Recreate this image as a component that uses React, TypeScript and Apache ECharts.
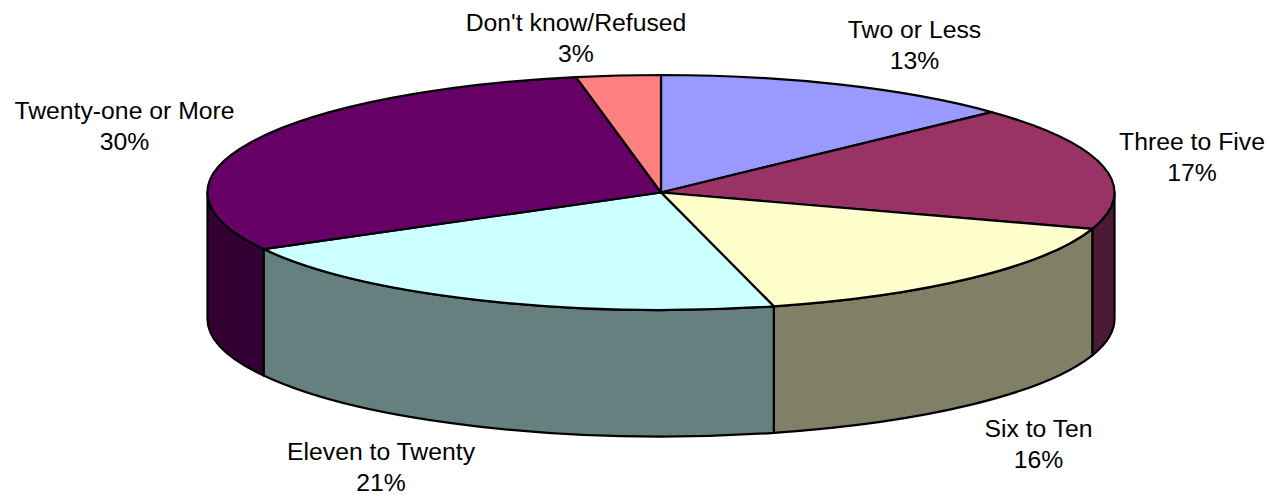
import React, { useEffect, useRef } from "react";
import * as echarts from "echarts";

const categories = ["Two or Less", "Three to Five", "Six to Ten", "Eleven to Twenty", "Twenty-one or More", "Don't know/Refused"];
const shares = [13, 17, 16, 21, 30, 3];
const topColors = ["#9999FF", "#993366", "#FFFFCC", "#CCFFFF", "#660066", "#FF8080"];
const sideColors = ["#4D4D80", "#4D1A33", "#808066", "#668080", "#330033", "#804040"];
const labelCentres = [
  [914.5, 44.5],
  [1192, 156.5],
  [1038.5, 443.5],
  [381, 466.5],
  [124.5, 125.5],
  [576, 37.5],
];

// Projection of the tilted disc
const CX = 661;
const CY = 192.5;
const RX = 453.5;
const RY = 117.5;
const DEPTH = 126.5;
const total = shares.reduce((a, b) => a + b, 0);

const angleAt = (count: number) =>
  (shares.slice(0, count).reduce((a, b) => a + b, 0) / total) * Math.PI * 2;

const rimPoint = (theta: number, dy = 0) =>
  [CX + RX * Math.sin(theta), CY - RY * Math.cos(theta) + dy] as const;

// Clockwise elliptical arc from the current point to theta b
const arcTo = (a: number, b: number, dy = 0) => {
  const [x, y] = rimPoint(b, dy);
  return `A${RX} ${RY} 0 ${b - a > Math.PI ? 1 : 0} 1 ${x} ${y}`;
};

const topPath = (a: number, b: number) => {
  const [x, y] = rimPoint(a);
  return `M${CX} ${CY}L${x} ${y}${arcTo(a, b)}Z`;
};

// Outer wall, only where the rim faces the viewer (90deg to 270deg)
const wallPath = (a: number, b: number) => {
  const from = Math.max(a, Math.PI / 2);
  const to = Math.min(b, (Math.PI * 3) / 2);
  if (to <= from) return null;
  const [x0, y0] = rimPoint(from);
  const [x1, y1] = rimPoint(to, DEPTH);
  // Lower arc runs backwards, so sweep is reversed
  const [x2, y2] = rimPoint(from, DEPTH);
  return (
    `M${x0} ${y0}${arcTo(from, to)}L${x1} ${y1}` +
    `A${RX} ${RY} 0 ${to - from > Math.PI ? 1 : 0} 0 ${x2} ${y2}Z`
  );
};

const edge = { stroke: "#000000", lineWidth: 2.2, lineJoin: "round" };

export default function App() {
  const ref = useRef<HTMLDivElement>(null);

  useEffect(() => {
    document.body.style.margin = "0";
    const chart = echarts.init(ref.current!, undefined, { renderer: "svg" });
    chart.setOption({
      animation: false,
      backgroundColor: "#FFFFFF",
      series: [
        {
          type: "custom",
          coordinateSystem: "none",
          silent: true,
          data: shares.map((v, i) => ({ name: categories[i], value: [i, v] })),
          renderItem: (_params: unknown, api: any) => {
            const i = api.value(0) as number;
            const a = angleAt(i);
            const b = angleAt(i + 1);
            const children: any[] = [];
            const wall = wallPath(a, b);
            if (wall) {
              children.push({
                type: "path",
                shape: { pathData: wall },
                style: { fill: sideColors[i], ...edge },
              });
            }
            children.push({
              type: "path",
              shape: { pathData: topPath(a, b) },
              style: { fill: topColors[i], ...edge },
            });
            children.push({
              type: "text",
              x: labelCentres[i][0],
              y: labelCentres[i][1],
              style: {
                text: `${categories[i]}\n${api.value(1)}%`,
                fill: "#000000",
                font: '24.75px "Liberation Sans", Arial, sans-serif',
                lineHeight: 31,
                align: "center",
                verticalAlign: "middle",
              },
            });
            return { type: "group", children };
          },
        },
      ],
    });
    return () => chart.dispose();
  }, []);

  return <div ref={ref} style={{ width: 1270, height: 498 }} />;
}
